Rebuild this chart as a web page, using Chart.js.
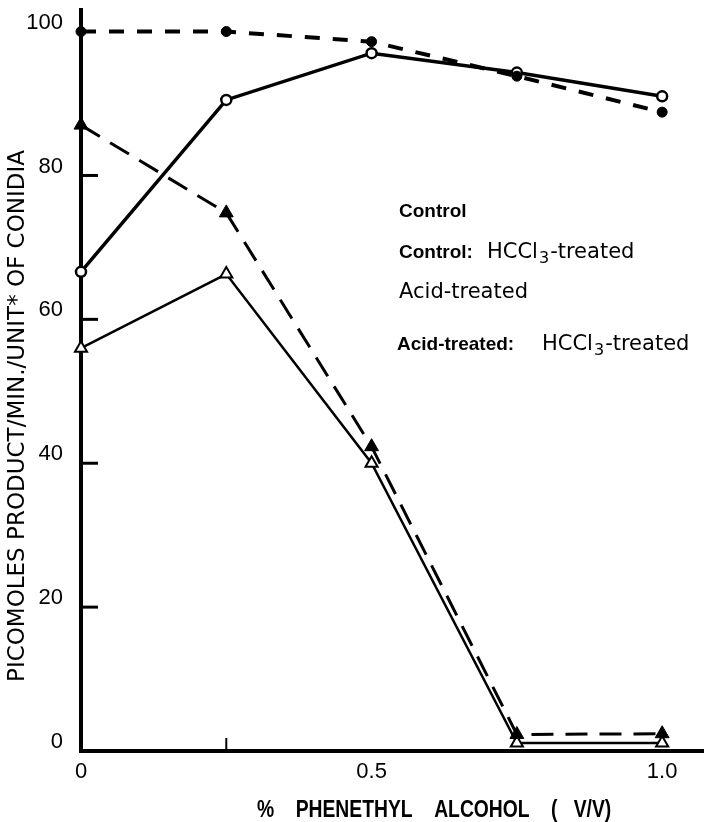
<!DOCTYPE html>
<html>
<head>
<meta charset="utf-8">
<script src="https://cdn.jsdelivr.net/npm/chart.js@4"></script>
<style>
  html, body { margin: 0; padding: 0; background: #fff; }
</style>
</head>
<body>
<canvas id="chart" width="704" height="822"></canvas>
<script>
// data
var concentrations = [0, 0.25, 0.5, 0.75, 1.0];
var seriesNames = ["Control", "Control: HCCl₃-treated", "Acid-treated", "Acid-treated: HCCl₃-treated"];
var control = [100, 100, 98.6, 93.8, 88.8];
var controlHCCl3 = [66.6, 90.5, 97, 94.3, 91];
var acid = [87, 74.8, 42.3, 2.3, 2.4];
var acidHCCl3 = [56, 66.3, 40, 1.1, 1.1];
var yTicks = [0, 20, 40, 60, 80, 100];
var xTicks = [0, 0.5, 1.0];
var xTickLabels = ["0", "0.5", "1.0"];
var yTickMarks = [20, 40, 60, 80];
var xTickMarks = [0.25];
var yTitle = "PICOMOLES PRODUCT/MIN./UNIT* OF CONIDIA";
var xTitle = "%    PHENETHYL    ALCOHOL    (   V/V)";

function points(arr) {
  return concentrations.map(function (c, i) { return { x: c, y: arr[i] }; });
}

// draws "HCCl₃-treated" with a real subscript 3
function drawChem(ctx, text, x, y) {
  var parts = text.split("₃");
  ctx.font = "21px 'DejaVu Sans'";
  ctx.fillText(parts[0], x, y);
  x += ctx.measureText(parts[0]).width;
  if (parts.length > 1) {
    ctx.font = "16px 'DejaVu Sans'";
    ctx.fillText("3", x + 1, y + 5);
    x += ctx.measureText("3").width + 2;
    ctx.font = "21px 'DejaVu Sans'";
    ctx.fillText(parts[1], x, y);
  }
}

var legendPos = [[399, 217], [399, 258], [399, 298], [397, 350]];
var legendBold = [true, true, false, true];
var chemX = [0, 487, 0, 542];

var decor = {
  id: 'decor',
  afterDraw: function (chart) {
    var ctx = chart.ctx;
    var xs = chart.scales.x, ys = chart.scales.y;
    ctx.save();
    ctx.strokeStyle = '#000';
    ctx.fillStyle = '#000';
    // inward tick marks
    ctx.lineWidth = 3;
    yTickMarks.forEach(function (v) {
      var py = ys.getPixelForValue(v);
      ctx.beginPath();
      ctx.moveTo(xs.left, py);
      ctx.lineTo(xs.left + 17, py);
      ctx.stroke();
    });
    ctx.lineWidth = 2;
    xTickMarks.forEach(function (v) {
      var px = xs.getPixelForValue(v);
      ctx.beginPath();
      ctx.moveTo(px, ys.bottom);
      ctx.lineTo(px, ys.bottom - 13);
      ctx.stroke();
    });

    // y title
    ctx.save();
    ctx.translate(18, 416);
    ctx.rotate(-Math.PI / 2);
    ctx.font = "23px 'DejaVu Sans'";
    ctx.textAlign = 'center';
    ctx.textBaseline = 'middle';
    ctx.fillText(yTitle, 0, 0);
    ctx.restore();

    // x title (condensed bold)
    ctx.save();
    ctx.translate(257, 817);
    ctx.scale(0.84, 1);
    ctx.font = "bold 23px 'Liberation Sans'";
    ctx.textAlign = 'left';
    ctx.textBaseline = 'alphabetic';
    ctx.fillText(xTitle, 0, 0);
    ctx.restore();

    // text-only legend
    ctx.textAlign = 'left';
    ctx.textBaseline = 'alphabetic';
    seriesNames.forEach(function (name, i) {
      var x = legendPos[i][0], y = legendPos[i][1];
      var idx = name.indexOf(': ');
      if (idx >= 0) {
        ctx.font = "bold 19px 'Liberation Sans'";
        ctx.fillText(name.slice(0, idx + 1), x, y);
        drawChem(ctx, name.slice(idx + 2), chemX[i], y);
      } else if (legendBold[i]) {
        ctx.font = "bold 19px 'Liberation Sans'";
        ctx.fillText(name, x, y);
      } else {
        drawChem(ctx, name, x, y);
      }
    });
    ctx.restore();
  }
};

Chart.defaults.font.family = "'Liberation Sans', Arial, sans-serif";
Chart.defaults.color = '#000';

new Chart('chart', {
  type: 'line',
  data: {
    datasets: [
      {
        label: seriesNames[0],
        data: points(control),
        borderColor: '#000',
        borderWidth: 4,
        borderDash: [15, 13],
        pointStyle: 'circle',
        pointRadius: 5,
        pointBackgroundColor: '#000',
        pointBorderColor: '#000',
        pointBorderWidth: 1,
        clip: false
      },
      {
        label: seriesNames[1],
        data: points(controlHCCl3),
        borderColor: '#000',
        borderWidth: 3.5,
        pointStyle: 'circle',
        pointRadius: 5,
        pointBackgroundColor: '#fff',
        pointBorderColor: '#000',
        pointBorderWidth: 2.5,
        clip: false
      },
      {
        label: seriesNames[2],
        data: points(acid),
        borderColor: '#000',
        borderWidth: 3,
        borderDash: [22, 12],
        pointStyle: 'triangle',
        pointRadius: 8,
        pointBackgroundColor: '#000',
        pointBorderColor: '#000',
        pointBorderWidth: 1,
        clip: false
      },
      {
        label: seriesNames[3],
        data: points(acidHCCl3),
        borderColor: '#000',
        borderWidth: 2.5,
        pointStyle: 'triangle',
        pointRadius: 7,
        pointBackgroundColor: '#fff',
        pointBorderColor: '#000',
        pointBorderWidth: 2,
        clip: false
      }
    ]
  },
  options: {
    responsive: false,
    animation: false,
    devicePixelRatio: 1,
    layout: { autoPadding: false, padding: { top: 10, right: 0, bottom: 0, left: 0 } },
    plugins: {
      legend: { display: false },
      tooltip: { enabled: false }
    },
    scales: {
      x: {
        type: 'linear',
        min: 0,
        max: 1.072,
        afterBuildTicks: function (scale) {
          scale.ticks = xTicks.map(function (v) { return { value: v }; });
        },
        afterFit: function (scale) {
          scale.height = 71;
          scale.paddingLeft = 0;
          scale.paddingRight = 0;
        },
        grid: { display: false, drawTicks: false },
        border: { display: true, color: '#000', width: 4 },
        ticks: {
          autoSkip: false,
          maxRotation: 0,
          padding: 8,
          font: { size: 22 },
          callback: function (value) { return xTickLabels[xTicks.indexOf(value)]; }
        }
      },
      y: {
        min: 0,
        max: 103,
        afterBuildTicks: function (scale) {
          scale.ticks = yTicks.map(function (v) { return { value: v }; });
        },
        afterFit: function (scale) {
          scale.width = 81;
          scale.paddingTop = 0;
          scale.paddingBottom = 0;
        },
        grid: { display: false, drawTicks: false },
        border: { display: true, color: '#000', width: 4 },
        ticks: {
          padding: 18,
          labelOffset: -9,
          font: { size: 22 }
        }
      }
    }
  },
  plugins: [decor]
});
</script>
</body>
</html>
